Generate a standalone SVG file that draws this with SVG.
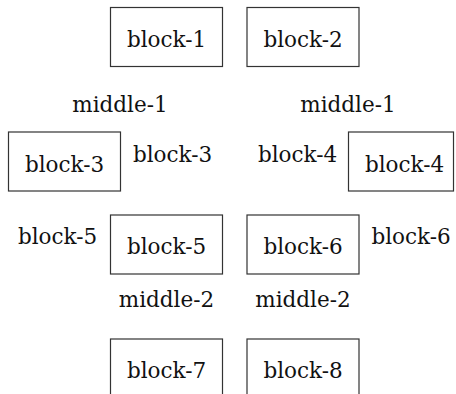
<svg xmlns="http://www.w3.org/2000/svg" width="456" height="394" viewBox="0 0 456 394">
<style>
rect.b{fill:#fff;stroke:#333;stroke-width:1.2}
text{font-family:'DejaVu Serif',serif;font-size:21.5px;fill:#111;text-anchor:middle}
</style>
<rect width="456" height="394" fill="#fff"/>
<g id="connectors"></g>
<g id="block-1"><rect class="b" x="110.5" y="7.5" width="112" height="59"/><text x="166.5" y="47">block-1</text></g>
<g id="block-2"><rect class="b" x="247" y="7.5" width="112" height="59"/><text x="303" y="47">block-2</text></g>
<g id="middle-1a"><text x="120" y="112">middle-1</text></g>
<g id="middle-1b"><text x="348" y="112">middle-1</text></g>
<g id="block-3"><rect class="b" x="8.5" y="132" width="112" height="59"/><text x="64.5" y="172">block-3</text><text x="172.5" y="162">block-3</text></g>
<g id="block-4"><rect class="b" x="348.5" y="132" width="105" height="59"/><text x="404.5" y="172">block-4</text><text x="297.5" y="162">block-4</text></g>
<g id="block-5"><rect class="b" x="110.5" y="215" width="112" height="59"/><text x="166.5" y="254">block-5</text><text x="57.5" y="244">block-5</text></g>
<g id="block-6"><rect class="b" x="247" y="215" width="112" height="59"/><text x="303" y="254">block-6</text><text x="411" y="244">block-6</text></g>
<g id="middle-2a"><text x="166.5" y="307">middle-2</text></g>
<g id="middle-2b"><text x="303" y="307">middle-2</text></g>
<g id="block-7"><rect class="b" x="110.5" y="339" width="112" height="64"/><text x="166.5" y="378">block-7</text></g>
<g id="block-8"><rect class="b" x="247" y="339" width="112" height="64"/><text x="303" y="378">block-8</text></g>
</svg>
